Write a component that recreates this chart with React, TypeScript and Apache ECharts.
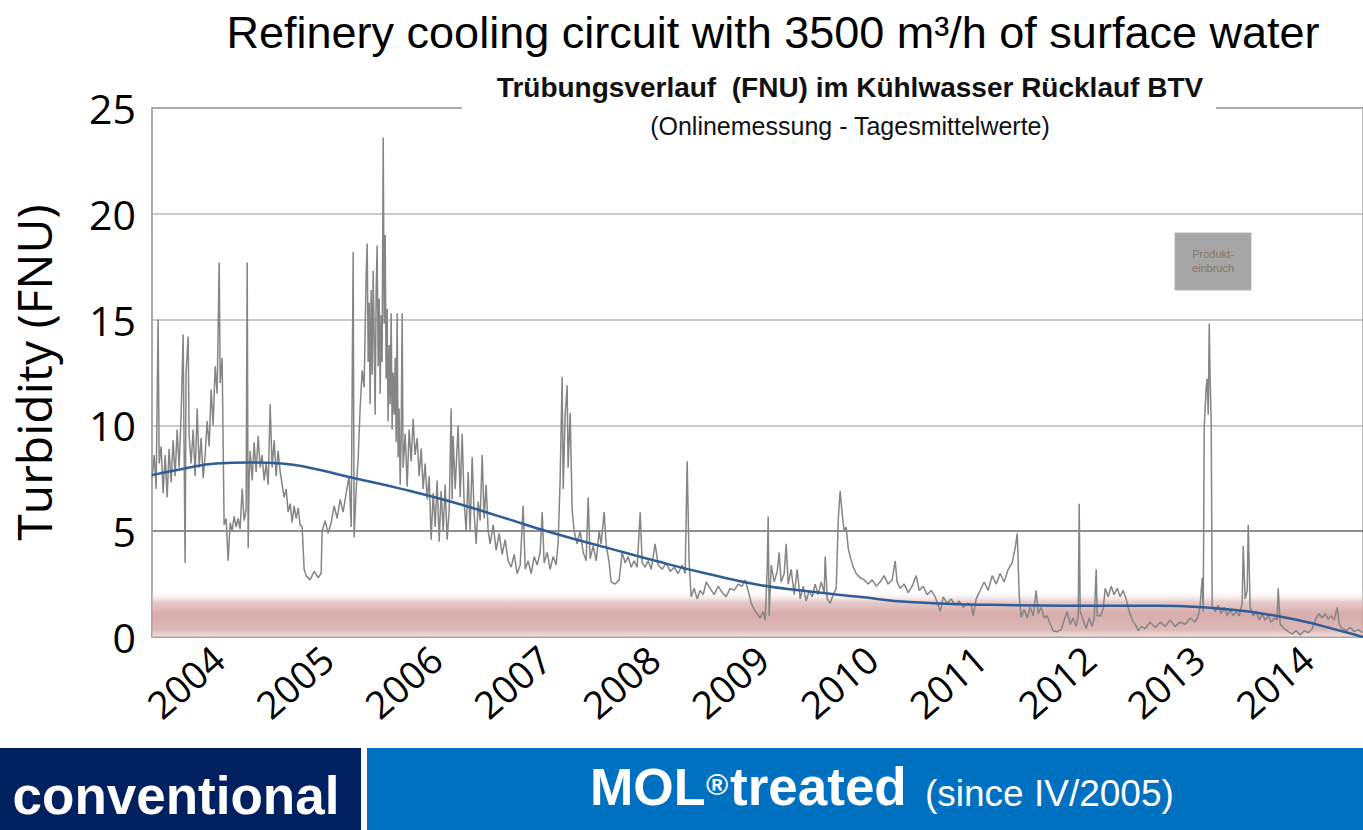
import React, { useEffect, useRef } from "react";
import * as echarts from "echarts";

// ---- data (decimal year, turbidity FNU) ----
const yearLabels = [2004, 2005, 2006, 2007, 2008, 2009, 2010, 2011, 2012, 2013, 2014];

const turbidity2003 = [
  [2003.311, 7.5], [2003.33, 8.6], [2003.348, 7.0], [2003.366, 15.0], [2003.376, 8.2],
  [2003.394, 9.0], [2003.412, 6.8], [2003.431, 8.6], [2003.449, 6.6], [2003.467, 8.9],
  [2003.486, 7.3], [2003.504, 9.3], [2003.522, 7.6], [2003.541, 9.8], [2003.559, 8.0],
  [2003.578, 10.6], [2003.596, 14.3], [2003.605, 8.8], [2003.614, 3.5], [2003.623, 12.5],
  [2003.642, 14.2], [2003.651, 9.5], [2003.669, 8.2], [2003.688, 9.8], [2003.706, 7.6],
  [2003.725, 10.8], [2003.743, 8.0], [2003.761, 9.4], [2003.78, 7.5], [2003.798, 8.6],
  [2003.816, 10.2], [2003.835, 9.0], [2003.853, 11.7], [2003.871, 10.0], [2003.89, 12.8],
  [2003.908, 11.5], [2003.927, 17.7], [2003.936, 12.0], [2003.954, 13.2], [2003.972, 5.3],
  [2003.991, 5.6],
];

const turbidity2004 = [
  [2004.009, 3.6], [2004.028, 5.4], [2004.046, 5.0], [2004.064, 5.7], [2004.083, 5.2],
  [2004.101, 5.6], [2004.119, 5.1], [2004.138, 7.0], [2004.156, 5.5], [2004.174, 6.0],
  [2004.184, 17.7], [2004.193, 4.2], [2004.202, 7.5], [2004.211, 8.8], [2004.23, 7.4],
  [2004.248, 9.2], [2004.266, 7.8], [2004.285, 9.5], [2004.303, 8.0], [2004.321, 8.6],
  [2004.34, 7.4], [2004.358, 8.2], [2004.377, 7.2], [2004.395, 11.0], [2004.413, 8.0],
  [2004.432, 9.3], [2004.45, 7.6], [2004.468, 8.8], [2004.487, 7.8], [2004.505, 7.2],
  [2004.523, 6.6], [2004.542, 7.0], [2004.56, 5.9], [2004.579, 6.3], [2004.597, 5.4],
  [2004.615, 6.2], [2004.634, 5.6], [2004.652, 6.1], [2004.67, 5.3], [2004.689, 5.2],
  [2004.707, 3.2], [2004.725, 2.9], [2004.762, 2.7], [2004.799, 3.1], [2004.836, 2.8],
  [2004.863, 3.0], [2004.872, 5.0], [2004.9, 5.5], [2004.927, 4.9], [2004.955, 5.4],
  [2004.983, 6.2],
];

const turbidity2005 = [
  [2005.01, 5.6], [2005.038, 6.5], [2005.065, 5.9], [2005.093, 6.8], [2005.12, 7.6],
  [2005.139, 5.2], [2005.157, 18.2], [2005.166, 4.7], [2005.185, 7.0], [2005.203, 8.4],
  [2005.221, 10.8], [2005.24, 12.6], [2005.258, 11.8], [2005.276, 17.0], [2005.286, 18.6],
  [2005.295, 13.0], [2005.304, 15.8], [2005.313, 11.0], [2005.322, 16.4], [2005.332, 12.4],
  [2005.341, 17.3], [2005.35, 14.2], [2005.359, 10.5], [2005.368, 16.2], [2005.377, 18.5],
  [2005.387, 12.8], [2005.396, 16.0], [2005.405, 11.5], [2005.414, 15.2], [2005.423, 13.0],
  [2005.433, 23.6], [2005.442, 14.8], [2005.451, 19.0], [2005.46, 12.2], [2005.469, 15.5],
  [2005.478, 10.2], [2005.488, 13.8], [2005.497, 11.0], [2005.506, 15.3], [2005.515, 9.8],
  [2005.524, 12.5], [2005.534, 10.5], [2005.543, 13.2], [2005.552, 9.2], [2005.561, 15.3],
  [2005.57, 8.5], [2005.579, 10.8], [2005.589, 7.2], [2005.598, 9.5], [2005.607, 15.3],
  [2005.616, 8.0], [2005.635, 9.6], [2005.653, 7.1], [2005.671, 9.8], [2005.69, 8.3],
  [2005.708, 10.3], [2005.726, 8.6], [2005.745, 9.4], [2005.763, 7.6], [2005.782, 8.9],
  [2005.8, 7.0], [2005.818, 8.2], [2005.837, 6.5], [2005.855, 7.6], [2005.873, 4.6],
  [2005.892, 6.8], [2005.91, 5.2], [2005.928, 7.4], [2005.947, 4.5], [2005.965, 6.9],
  [2005.984, 5.0],
];

const turbidity2006_2007 = [
  [2006.002, 7.2], [2006.02, 4.6], [2006.039, 6.0], [2006.057, 10.8], [2006.066, 6.5],
  [2006.075, 9.5], [2006.094, 7.0], [2006.121, 10.0], [2006.14, 6.6], [2006.158, 9.6],
  [2006.176, 6.4], [2006.195, 5.0], [2006.213, 7.8], [2006.231, 5.0], [2006.25, 8.5],
  [2006.268, 5.8], [2006.287, 4.4], [2006.305, 6.4], [2006.323, 5.5], [2006.342, 8.6],
  [2006.36, 5.6], [2006.378, 7.2], [2006.397, 5.0], [2006.415, 4.4], [2006.443, 5.3],
  [2006.47, 4.1], [2006.498, 4.9], [2006.525, 3.9], [2006.553, 4.6], [2006.58, 3.6],
  [2006.608, 3.3], [2006.636, 3.9], [2006.663, 3.0], [2006.691, 3.4], [2006.718, 6.2],
  [2006.737, 3.2], [2006.764, 3.6], [2006.792, 3.0], [2006.819, 3.8], [2006.847, 3.4],
  [2006.874, 4.0], [2006.893, 5.9], [2006.911, 3.5], [2006.939, 4.0], [2006.966, 3.2],
  [2006.994, 3.8], [2007.021, 3.4], [2007.04, 4.5], [2007.058, 7.5], [2007.076, 12.3],
  [2007.086, 7.0], [2007.104, 10.5], [2007.122, 11.9], [2007.131, 8.0], [2007.15, 10.6],
  [2007.168, 6.0], [2007.187, 5.0], [2007.214, 4.4], [2007.242, 5.0], [2007.269, 4.0],
  [2007.297, 3.6], [2007.315, 6.6], [2007.333, 3.7], [2007.361, 4.3], [2007.389, 3.6],
  [2007.416, 5.0], [2007.434, 4.4], [2007.462, 5.9], [2007.48, 4.4], [2007.508, 3.5],
  [2007.526, 2.6], [2007.563, 2.5], [2007.6, 2.7], [2007.627, 4.0], [2007.655, 3.5],
  [2007.682, 3.8], [2007.71, 3.3], [2007.737, 3.6], [2007.765, 3.3], [2007.793, 5.9],
  [2007.811, 3.5], [2007.838, 3.3], [2007.866, 3.6], [2007.894, 3.2], [2007.93, 4.4],
  [2007.958, 3.4], [2007.995, 3.2],
];

const turbidity2008_2009 = [
  [2008.031, 3.5], [2008.068, 3.1], [2008.105, 3.3], [2008.141, 3.0], [2008.178, 3.4],
  [2008.206, 3.0], [2008.224, 8.3], [2008.242, 3.5], [2008.261, 1.9], [2008.288, 2.3],
  [2008.316, 1.8], [2008.343, 2.2], [2008.371, 2.0], [2008.399, 2.6], [2008.435, 2.3],
  [2008.472, 2.0], [2008.509, 2.4], [2008.546, 2.1], [2008.582, 1.9], [2008.619, 2.3],
  [2008.656, 2.2], [2008.692, 2.5], [2008.729, 2.4], [2008.757, 2.7], [2008.784, 2.2],
  [2008.812, 1.6], [2008.839, 1.3], [2008.867, 1.1], [2008.894, 0.9], [2008.922, 1.2],
  [2008.941, 0.8], [2008.959, 3.2], [2008.968, 5.7], [2008.977, 1.0], [2008.996, 3.4],
  [2009.023, 2.6], [2009.051, 3.1], [2009.069, 4.0], [2009.087, 2.6], [2009.115, 3.0],
  [2009.133, 4.4], [2009.152, 2.5], [2009.179, 3.2], [2009.207, 2.0], [2009.234, 3.2],
  [2009.262, 1.8], [2009.289, 2.4], [2009.317, 1.7], [2009.345, 2.2], [2009.372, 1.9],
  [2009.4, 2.5], [2009.426, 2.0], [2009.455, 2.6], [2009.482, 2.1], [2009.492, 3.8],
  [2009.51, 1.8], [2009.537, 1.6], [2009.565, 2.0], [2009.593, 2.3], [2009.611, 5.5],
  [2009.629, 6.9], [2009.648, 5.8], [2009.666, 5.0], [2009.684, 5.2], [2009.703, 4.2],
  [2009.721, 3.8], [2009.749, 3.3], [2009.776, 3.0], [2009.813, 2.8], [2009.85, 2.7],
  [2009.886, 2.5], [2009.923, 2.7], [2009.96, 2.4], [2009.996, 2.6],
];

const turbidity2010_2011 = [
  [2010.033, 2.9], [2010.069, 2.5], [2010.107, 2.7], [2010.134, 3.6], [2010.152, 2.6],
  [2010.18, 2.3], [2010.217, 2.5], [2010.254, 2.1], [2010.29, 2.4], [2010.327, 2.9],
  [2010.355, 2.2], [2010.391, 2.4], [2010.428, 2.0], [2010.465, 2.2], [2010.501, 1.9],
  [2010.529, 1.5], [2010.548, 1.2], [2010.575, 1.9], [2010.612, 1.6], [2010.648, 1.8],
  [2010.685, 1.5], [2010.722, 1.7], [2010.759, 1.4], [2010.795, 1.6], [2010.832, 1.5],
  [2010.851, 1.0], [2010.878, 1.8], [2010.915, 2.2], [2010.951, 2.6], [2010.988, 2.2],
  [2011.025, 2.9], [2011.062, 2.5], [2011.098, 3.0], [2011.135, 2.6], [2011.172, 3.2],
  [2011.208, 3.5], [2011.236, 4.2], [2011.255, 4.9], [2011.273, 2.0], [2011.291, 0.95],
  [2011.319, 1.3], [2011.346, 0.9], [2011.374, 1.4], [2011.402, 1.0], [2011.429, 2.2],
  [2011.448, 1.1], [2011.475, 1.4], [2011.503, 0.9], [2011.53, 1.0], [2011.558, 0.6],
  [2011.585, 0.3], [2011.622, 0.25], [2011.659, 0.35], [2011.686, 0.8], [2011.714, 1.2],
  [2011.741, 0.6], [2011.769, 0.9], [2011.796, 0.5], [2011.815, 1.0], [2011.824, 6.3],
  [2011.833, 1.2], [2011.861, 0.8], [2011.888, 0.4], [2011.916, 0.9], [2011.943, 0.5],
  [2011.962, 0.9], [2011.98, 3.2], [2011.989, 1.0],
];

const turbidity2012_2014 = [
  [2012.017, 1.0], [2012.044, 1.3], [2012.063, 2.3], [2012.09, 1.9], [2012.118, 2.4],
  [2012.145, 2.0], [2012.173, 2.3], [2012.2, 1.9], [2012.228, 2.2], [2012.255, 1.8],
  [2012.283, 1.2], [2012.311, 0.8], [2012.338, 0.6], [2012.366, 0.3], [2012.393, 0.5],
  [2012.43, 0.4], [2012.476, 0.7], [2012.522, 0.45], [2012.568, 0.7], [2012.614, 0.5],
  [2012.66, 0.8], [2012.705, 0.5], [2012.751, 0.7], [2012.797, 0.6], [2012.843, 0.9],
  [2012.889, 0.7], [2012.917, 1.0], [2012.935, 1.5], [2012.953, 2.8], [2012.963, 1.2],
  [2012.972, 9.9], [2012.99, 11.8], [2012.999, 12.2], [2013.009, 10.5], [2013.018, 14.8],
  [2013.027, 12.0], [2013.036, 10.2], [2013.045, 1.5], [2013.073, 1.2], [2013.1, 1.5],
  [2013.128, 1.1], [2013.155, 1.4], [2013.183, 1.0], [2013.211, 1.3], [2013.238, 1.0],
  [2013.266, 1.2], [2013.293, 1.0], [2013.321, 1.6], [2013.33, 4.3], [2013.348, 1.8],
  [2013.367, 2.2], [2013.376, 5.3], [2013.394, 1.4], [2013.422, 1.0], [2013.449, 1.2],
  [2013.477, 0.8], [2013.504, 1.1], [2013.532, 0.8], [2013.56, 1.0], [2013.587, 0.7],
  [2013.615, 0.9], [2013.642, 0.8], [2013.651, 2.3], [2013.67, 0.6], [2013.706, 0.4],
  [2013.743, 0.25], [2013.78, 0.15], [2013.816, 0.3], [2013.853, 0.1], [2013.89, 0.3],
  [2013.927, 0.2], [2013.964, 0.4], [2014.0, 0.9], [2014.028, 1.1], [2014.055, 0.9],
  [2014.083, 1.1], [2014.111, 0.85], [2014.138, 1.0], [2014.166, 0.8], [2014.193, 1.4],
  [2014.212, 0.6], [2014.239, 0.4], [2014.276, 0.3], [2014.313, 0.45], [2014.349, 0.25],
  [2014.386, 0.35], [2014.423, 0.2],
];

const trendLine = [
  [2003.31, 7.65], [2003.6, 7.95], [2003.9, 8.2], [2004.2, 8.25], [2004.5, 8.2],
  [2004.8, 7.95], [2005.13, 7.55], [2005.6, 7.0], [2006.05, 6.4], [2006.5, 5.7],
  [2007.0, 4.9], [2007.5, 4.2], [2007.93, 3.6], [2008.4, 3.0], [2008.9, 2.45],
  [2009.35, 2.15], [2009.8, 1.9], [2010.27, 1.65], [2011.0, 1.52], [2011.7, 1.48],
  [2012.55, 1.48], [2012.92, 1.42], [2013.38, 1.2], [2013.83, 0.8], [2014.29, 0.2],
  [2014.43, 0],
];

const targetBand = [0, 2.2];

const turbidity = [
  ...turbidity2003, ...turbidity2004, ...turbidity2005, ...turbidity2006_2007,
  ...turbidity2008_2009, ...turbidity2010_2011, ...turbidity2012_2014,
];

const LS = "'Liberation Sans', Arial, sans-serif";
const OS = "'Open Sans', sans-serif";

export default function App() {
  const ref = useRef<HTMLDivElement>(null);

  useEffect(() => {
    document.body.style.margin = "0";
    const chart = echarts.init(ref.current!, null, { renderer: "svg" });
    chart.setOption({
      animation: false,
      backgroundColor: "#ffffff",
      grid: {
        left: 152, right: -1, top: 108, bottom: 193,
        show: true, borderColor: "#a6a6a6", borderWidth: 1.5,
      },
      xAxis: {
        type: "value",
        min: 2003.31,
        max: 2014.43,
        axisLine: { show: true, lineStyle: { color: "#a6a6a6", width: 1.5 } },
        axisTick: { show: false },
        splitLine: { show: false },
        axisLabel: {
          customValues: yearLabels,
          rotate: 41,
          margin: 8,
          padding: [0, 12, 0, 0],
          fontSize: 38,
          fontFamily: OS,
          color: "#000",
          formatter: (v: number) => String(Math.round(v)),
        },
      },
      yAxis: {
        type: "value",
        min: 0,
        max: 25,
        interval: 5,
        name: "Turbidity (FNU)",
        nameLocation: "middle",
        nameGap: 95,
        nameTextStyle: { fontSize: 48, fontFamily: OS, color: "#000" },
        axisLine: { show: true, lineStyle: { color: "#a6a6a6", width: 1.5 } },
        axisTick: { show: false },
        axisLabel: { fontSize: 41, fontFamily: OS, color: "#000", margin: 16 },
        splitLine: {
          show: true,
          lineStyle: {
            color: ["#a6a6a6", "#6a6a6a", "#b8b8b8", "#b8b8b8", "#b8b8b8", "#a6a6a6"],
            width: 1.5,
          },
        },
      },
      series: [
        {
          name: "band",
          type: "line",
          data: trendLine,
          showSymbol: false,
          lineStyle: { width: 0, opacity: 0 },
          silent: true,
          z: 1,
          markArea: {
            silent: true,
            itemStyle: {
              color: new echarts.graphic.LinearGradient(0, 0, 0, 1, [
                { offset: 0, color: "rgba(255,255,255,0)" },
                { offset: 0.25, color: "rgba(220,180,180,0.7)" },
                { offset: 0.5, color: "rgba(208,158,158,0.85)" },
                { offset: 0.85, color: "rgba(212,166,166,0.8)" },
                { offset: 1, color: "rgba(232,205,205,0.6)" },
              ]),
            },
            data: [[{ yAxis: targetBand[0] }, { yAxis: targetBand[1] }]],
          },
        },
        {
          name: "Trübung",
          type: "line",
          data: turbidity,
          showSymbol: false,
          lineStyle: { color: "#858585", width: 1.5 },
          z: 2,
        },
        {
          name: "Trend",
          type: "line",
          data: trendLine,
          smooth: 0.5,
          showSymbol: false,
          lineStyle: { color: "#2f5d96", width: 2.5 },
          z: 3,
        },
      ],
      graphic: [
        {
          type: "text", x: 773, y: 32, z: 10,
          style: {
            text: "Refinery cooling circuit with 3500 m³/h of surface water",
            font: `45px ${LS}`, fill: "#000", textAlign: "center", textVerticalAlign: "middle",
          },
        },
        {
          type: "rect", z: 10,
          shape: { x: 462, y: 98, width: 754, height: 20 },
          style: { fill: "#ffffff" },
        },
        {
          type: "text", x: 850, y: 87, z: 11,
          style: {
            text: "Trübungsverlauf  (FNU) im Kühlwasser Rücklauf BTV",
            font: `bold 28px ${LS}`, fill: "#111", textAlign: "center", textVerticalAlign: "middle",
          },
        },
        {
          type: "text", x: 850, y: 126, z: 11,
          style: {
            text: "(Onlinemessung - Tagesmittelwerte)",
            font: `25px ${LS}`, fill: "#111", textAlign: "center", textVerticalAlign: "middle",
          },
        },
        {
          type: "rect", z: 10,
          shape: { x: 1175, y: 233, width: 76, height: 57 },
          style: { fill: "#a6a6a6", stroke: "#b4b4b4", lineWidth: 1 },
        },
        {
          type: "text", x: 1213, y: 261, z: 11,
          style: {
            text: "Produkt-\neinbruch",
            font: `11px ${LS}`, fill: "#857768", textAlign: "center", textVerticalAlign: "middle",
            lineHeight: 14,
          },
        },
        {
          type: "rect", z: 10,
          shape: { x: 0, y: 748, width: 361, height: 82 },
          style: { fill: "#002060" },
        },
        {
          type: "rect", z: 10,
          shape: { x: 367, y: 748, width: 996, height: 82 },
          style: { fill: "#0070c0" },
        },
        {
          type: "text", x: 176, y: 795, z: 11,
          style: {
            text: "conventional",
            font: `bold 53px ${LS}`, fill: "#fff", textAlign: "center", textVerticalAlign: "middle",
          },
        },
        {
          type: "text", x: 590, y: 813, z: 11,
          style: {
            text: "MOL",
            font: `bold 52px ${LS}`, fill: "#fff", textAlign: "left", textVerticalAlign: "bottom",
          },
        },
        {
          type: "text", x: 706, y: 799, z: 11,
          style: {
            text: "®",
            font: `bold 30px ${LS}`, fill: "#fff", textAlign: "left", textVerticalAlign: "bottom",
          },
        },
        {
          type: "text", x: 730, y: 813, z: 11,
          style: {
            text: "treated",
            font: `bold 53px ${LS}`, fill: "#fff", textAlign: "left", textVerticalAlign: "bottom",
          },
        },
        {
          type: "text", x: 925, y: 812, z: 11,
          style: {
            text: "(since IV/2005)",
            font: `37px ${LS}`, fill: "#fff", textAlign: "left", textVerticalAlign: "bottom",
          },
        },
      ],
    });
    return () => chart.dispose();
  }, []);

  return (
    <div
      ref={ref}
      style={{ position: "fixed", left: 0, top: 0, width: 1363, height: 830 }}
    />
  );
}
